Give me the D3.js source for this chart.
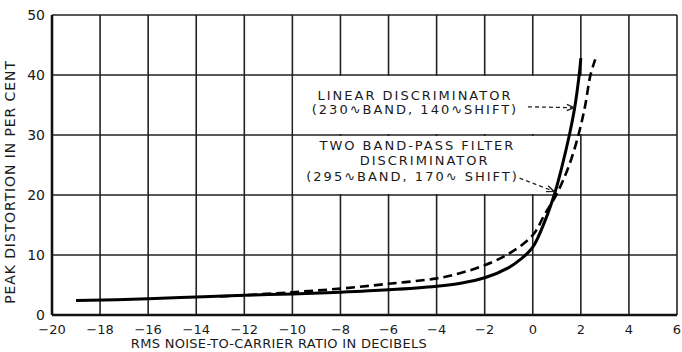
<!DOCTYPE html>
<html>
<head>
<meta charset="utf-8">
<script src="https://cdn.jsdelivr.net/npm/d3@7"></script>
<style>
  body { margin: 0; background: #fff; }
  text { font-family: "DejaVu Sans", "Liberation Sans", sans-serif; fill: #1a1a1a; }
</style>
</head>
<body>
<div id="chart"></div>
<script>
// curve readings (x in dB, y in per cent)
const linearX = [-19, -16, -14, -12, -10, -8, -6, -4, -3, -2, -1, -0.5, 0, 0.5, 0.93, 1.2, 1.55, 1.75, 1.93, 2.0];
const linearY = [2.4, 2.7, 3.0, 3.3, 3.5, 3.8, 4.2, 4.8, 5.3, 6.2, 7.9, 9.3, 11.3, 15.6, 20.5, 24.5, 30.5, 34.7, 40, 42.8];
const bandpassX = [-13, -12, -10, -8, -6, -4, -3, -2, -1, 0, 0.5, 1.0, 1.49, 1.9, 2.17, 2.4, 2.6];
const bandpassY = [3.1, 3.3, 3.8, 4.4, 5.2, 6.1, 7.0, 8.3, 10.2, 13.3, 16.8, 20.2, 24.7, 30, 34.7, 40, 42.6];

const xTicks = [-20, -18, -16, -14, -12, -10, -8, -6, -4, -2, 0, 2, 4, 6];
const yTicks = [0, 10, 20, 30, 40, 50];

const labelLines = ["LINEAR DISCRIMINATOR", "(230\u223FBAND, 140\u223FSHIFT)",
  "TWO BAND-PASS FILTER", "DISCRIMINATOR", "(295\u223FBAND, 170\u223F SHIFT)"];
const labelY = [35.8, 33.5, 27.5, 25.0, 22.3];
const labelX = [-4.9, -4.9, -4.8, -4.5, -5.0];

// arrows: [x1, y1, x2, y2]
const arrows = [[-0.2, 34.7, 1.72, 34.55], [-0.55, 22.8, 0.88, 20.6]];

const margin = { top: 15, right: 5, bottom: 37, left: 52 },
  width = 682 - margin.left - margin.right,
  height = 352 - margin.top - margin.bottom;

const svg = d3.select("#chart")
  .append("svg")
  .attr("width", 682)
  .attr("height", 352)
  .append("g")
  .attr("transform", `translate(${margin.left}, ${margin.top})`);

const x = d3.scaleLinear().domain([-20, 6]).range([0, width]);
const y = d3.scaleLinear().domain([0, 50]).range([height, 0]);

// grid
svg.append("g")
  .selectAll("line")
  .data(xTicks)
  .join("line")
  .attr("x1", d => x(d)).attr("x2", d => x(d))
  .attr("y1", 0).attr("y2", height)
  .attr("stroke", "#222").attr("stroke-width", 1.6);

svg.append("g")
  .selectAll("line")
  .data(yTicks)
  .join("line")
  .attr("x1", 0).attr("x2", width)
  .attr("y1", d => y(d)).attr("y2", d => y(d))
  .attr("stroke", "#222").attr("stroke-width", 1.6);

// white label panel that hides the grid
const panel = [[-10, 2.05, 30, 40], [-10, 1.85, 20, 30]];
svg.append("g")
  .selectAll("rect")
  .data(panel)
  .join("rect")
  .attr("x", d => x(d[0]) + 1)
  .attr("width", d => x(d[1]) - x(d[0]) - 1)
  .attr("y", d => y(d[3]) + 1)
  .attr("height", d => y(d[2]) - y(d[3]) - 2)
  .attr("fill", "#fff");

// axes frame
svg.append("line").attr("x1", 0).attr("x2", 0).attr("y1", 0).attr("y2", height)
  .attr("stroke", "#111").attr("stroke-width", 2.6);
svg.append("line").attr("x1", 0).attr("x2", width).attr("y1", height).attr("y2", height)
  .attr("stroke", "#111").attr("stroke-width", 2.6);

// tick labels
svg.append("g")
  .selectAll("text")
  .data(xTicks)
  .join("text")
  .attr("x", d => x(d))
  .attr("y", height + 19)
  .attr("text-anchor", "middle")
  .style("font-size", "13px")
  .text(d => d3.format("")(d));

svg.append("g")
  .selectAll("text")
  .data(yTicks)
  .join("text")
  .attr("x", -7)
  .attr("y", d => y(d) + 5)
  .attr("text-anchor", "end")
  .style("font-size", "14px")
  .text(d => d);

// axis titles
svg.append("text")
  .attr("x", x(-10.56))
  .attr("y", height + 33)
  .attr("text-anchor", "middle")
  .style("font-size", "13px")
  .style("letter-spacing", "0.3px")
  .text("RMS NOISE-TO-CARRIER RATIO IN DECIBELS");

svg.append("text")
  .attr("transform", `translate(${-37}, ${height / 2 + 17}) rotate(-90)`)
  .attr("text-anchor", "middle")
  .style("font-size", "14px")
  .style("letter-spacing", "0.9px")
  .text("PEAK DISTORTION IN PER CENT");

// curves
const line = d3.line().curve(d3.curveCatmullRom.alpha(0.5));

svg.append("path")
  .attr("d", line(linearX.map((d, i) => [x(d), y(linearY[i])])))
  .attr("fill", "none")
  .attr("stroke", "#000")
  .attr("stroke-width", 3);

svg.append("path")
  .attr("d", line(bandpassX.map((d, i) => [x(d), y(bandpassY[i])])))
  .attr("fill", "none")
  .attr("stroke", "#000")
  .attr("stroke-width", 2.6)
  .attr("stroke-dasharray", "9,5");

// labels
svg.append("g")
  .selectAll("text")
  .data(labelLines)
  .join("text")
  .attr("x", (d, i) => x(labelX[i]))
  .attr("y", (d, i) => y(labelY[i]))
  .attr("text-anchor", "middle")
  .style("font-size", "13px")
  .style("letter-spacing", "2px")
  .text(d => d);

// arrows
const arrowG = svg.append("g");
arrows.forEach(a => {
  const x1 = x(a[0]), y1 = y(a[1]), x2 = x(a[2]), y2 = y(a[3]);
  const ang = Math.atan2(y2 - y1, x2 - x1);
  arrowG.append("line")
    .attr("x1", x1).attr("y1", y1).attr("x2", x2).attr("y2", y2)
    .attr("stroke", "#222").attr("stroke-width", 1.3)
    .attr("stroke-dasharray", "4,3");
  const len = 8, spread = 0.4;
  arrowG.append("path")
    .attr("d", `M${x2 - len * Math.cos(ang - spread)},${y2 - len * Math.sin(ang - spread)}L${x2},${y2}L${x2 - len * Math.cos(ang + spread)},${y2 - len * Math.sin(ang + spread)}`)
    .attr("fill", "none")
    .attr("stroke", "#222").attr("stroke-width", 1.4);
});
</script>
</body>
</html>
